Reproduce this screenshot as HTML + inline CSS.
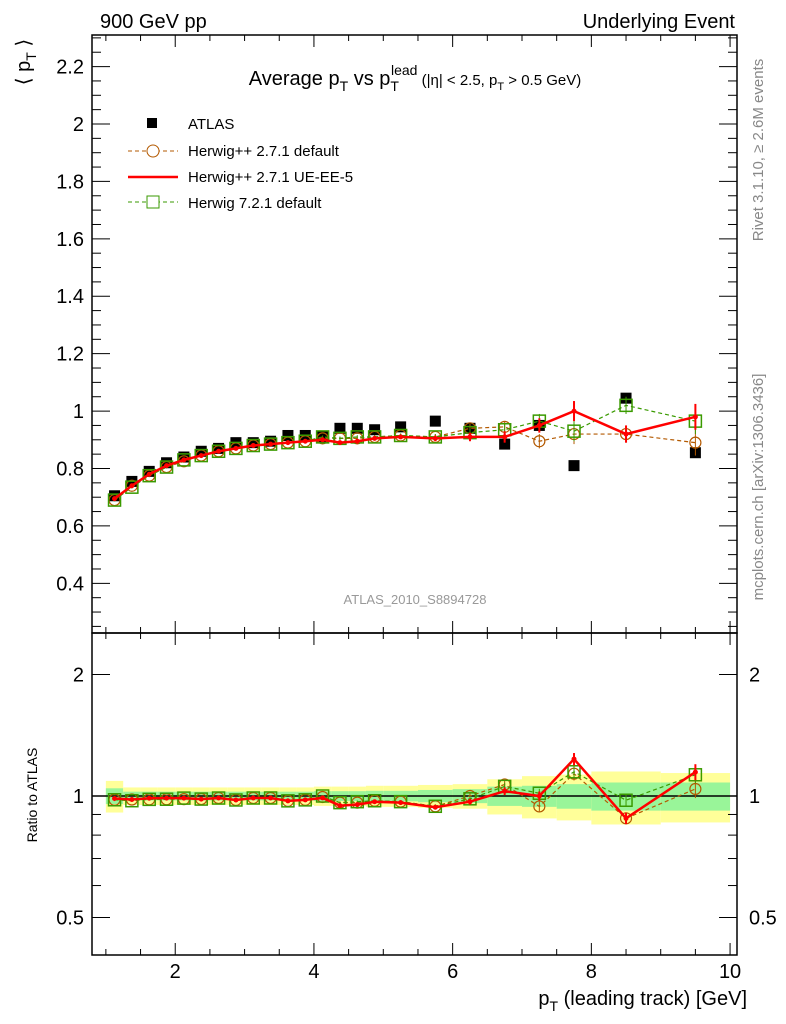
<!DOCTYPE html>
<html><head><meta charset="utf-8"><style>
body{margin:0;background:#fff;}
svg{display:block;font-family:"Liberation Sans",sans-serif;}
</style></head><body>
<svg id="c" width="786" height="1024" viewBox="0 0 786 1024">
<text x="100" y="28" font-size="20">900 GeV pp</text>
<text x="735" y="28" font-size="20" text-anchor="end">Underlying Event</text>
<text x="415" y="85" font-size="20" text-anchor="middle">Average p<tspan font-size="14" dy="6">T</tspan><tspan dy="-6"> vs p</tspan><tspan font-size="14" dy="6">T</tspan><tspan font-size="14" dx="-8" dy="-16">lead</tspan><tspan font-size="15" dy="10"> (|η| &lt; 2.5, p</tspan><tspan font-size="11" dy="5">T</tspan><tspan font-size="15" dy="-5"> &gt; 0.5 GeV)</tspan></text>
<text transform="translate(30,62) rotate(-90)" font-size="20" text-anchor="middle">⟨ p<tspan font-size="14" dy="6">T</tspan><tspan dy="-6"> ⟩</tspan></text>
<text transform="translate(37,795) rotate(-90)" font-size="14" text-anchor="middle">Ratio to ATLAS</text>
<text transform="translate(763,150) rotate(-90)" font-size="15" fill="#888" text-anchor="middle">Rivet 3.1.10, ≥ 2.6M events</text>
<text transform="translate(763,487) rotate(-90)" font-size="15" fill="#888" text-anchor="middle">mcplots.cern.ch [arXiv:1306.3436]</text>
<text x="415" y="604" font-size="13" fill="#999" text-anchor="middle">ATLAS_2010_S8894728</text>
<text x="747" y="1005" font-size="20" text-anchor="end">p<tspan font-size="14" dy="6">T</tspan><tspan dy="-6"> (leading track) [GeV]</tspan></text>
<g id="legend">
<rect x="147" y="118" width="10" height="10" fill="#000"/>
<text x="188" y="129" font-size="15">ATLAS</text>
<line x1="128" y1="151" x2="178" y2="151" stroke="#b35900" stroke-dasharray="4,3"/>
<circle cx="153" cy="151" r="6" fill="#fff" stroke="#b35900"/>
<text x="188" y="156" font-size="15">Herwig++ 2.7.1 default</text>
<line x1="128" y1="177" x2="178" y2="177" stroke="#f00" stroke-width="2.5"/>
<text x="188" y="182" font-size="15">Herwig++ 2.7.1 UE-EE-5</text>
<line x1="128" y1="202" x2="178" y2="202" stroke="#3a9a00" stroke-dasharray="4,3"/>
<rect x="147" y="196" width="12" height="12" fill="#fff" stroke="#3a9a00"/>
<text x="188" y="208" font-size="15">Herwig 7.2.1 default</text>
</g>
</svg>
<script>
const xCenters=[1.125,1.375,1.625,1.875,2.125,2.375,2.625,2.875,3.125,3.375,3.625,3.875,4.125,4.375,4.625,4.875,5.25,5.75,6.25,6.75,7.25,7.75,8.5,9.5];
const xEdges=[1,1.25,1.5,1.75,2,2.25,2.5,2.75,3,3.25,3.5,3.75,4,4.25,4.5,4.75,5,5.5,6,6.5,7,7.5,8,9,10];
const atlas=[0.705,0.755,0.79,0.82,0.84,0.86,0.87,0.89,0.89,0.895,0.915,0.915,0.91,0.94,0.94,0.935,0.945,0.965,0.94,0.885,0.95,0.81,1.045,0.855];
const hppDefault=[0.69,0.74,0.775,0.805,0.825,0.845,0.86,0.87,0.88,0.885,0.89,0.895,0.905,0.905,0.905,0.91,0.915,0.91,0.94,0.945,0.895,0.92,0.92,0.89];
const hppUEEE5=[0.695,0.74,0.78,0.81,0.83,0.845,0.86,0.87,0.88,0.885,0.89,0.895,0.9,0.89,0.895,0.905,0.91,0.905,0.91,0.91,0.95,1.0,0.92,0.98];
const h7Default=[0.69,0.735,0.775,0.805,0.83,0.845,0.86,0.87,0.88,0.885,0.89,0.895,0.91,0.905,0.91,0.91,0.915,0.91,0.925,0.935,0.965,0.93,1.02,0.965];
const mcErr=[0.005,0.005,0.005,0.005,0.005,0.005,0.005,0.005,0.005,0.005,0.005,0.005,0.005,0.006,0.006,0.006,0.007,0.01,0.015,0.02,0.025,0.035,0.03,0.045];
const totRel=[0.09,0.05,0.05,0.05,0.05,0.05,0.05,0.05,0.05,0.05,0.05,0.05,0.055,0.055,0.055,0.06,0.06,0.065,0.07,0.1,0.12,0.13,0.15,0.14];
const statRel=[0.045,0.025,0.025,0.025,0.025,0.025,0.025,0.025,0.025,0.025,0.025,0.025,0.028,0.028,0.028,0.03,0.03,0.035,0.04,0.055,0.06,0.07,0.08,0.08];
const yTicks=[0.4,0.6,0.8,1,1.2,1.4,1.6,1.8,2,2.2];
const xTicks=[2,4,6,8,10];
const rTicks=[0.5,1,2];

const svg=document.getElementById('c');
const NS='http://www.w3.org/2000/svg';
const L=92,R=737,T=35,MB=633,RB=955;
const xmin=0.8,xmax=10.1,ymin=0.227,ymax=2.31;
const X=v=>L+(v-xmin)/(xmax-xmin)*(R-L);
const Y=v=>MB-(v-ymin)/(ymax-ymin)*(MB-T);
const RY=v=>796-Math.log2(v)*121.5;
function mk(t,a,p){const e=document.createElementNS(NS,t);for(const k in a)e.setAttribute(k,a[k]);(p||svg).appendChild(e);return e;}

// bands
const bands=mk('g',{});


xCenters.forEach((c,i)=>{
 const x0=X(xEdges[i]),x1=X(xEdges[i+1]);
 const y=mk('rect',{x:x0,y:RY(1+totRel[i]),width:x1-x0,height:RY(1-totRel[i])-RY(1+totRel[i]),fill:'#ffff99'},bands);
 
 
 const g=mk('rect',{x:x0,y:RY(1+statRel[i]),width:x1-x0,height:RY(1-statRel[i])-RY(1+statRel[i]),fill:'#99f599'},bands);
 
 
});
const one=mk('line',{x1:L,x2:R,y1:RY(1),y2:RY(1),stroke:'#000','stroke-width':1.5});



// frames
const f1=mk('rect',{x:L,y:T,width:R-L,height:MB-T,fill:'none',stroke:'#000','stroke-width':1.5});


const f2=mk('rect',{x:L,y:MB,width:R-L,height:RB-MB,fill:'none',stroke:'#000','stroke-width':1.5});



// ticks
const ax=mk('g',{stroke:'#000','stroke-width':1});


for(let v=1;v<=10.001;v+=0.5){const maj=Math.abs(v-Math.round(v))<0.01&&Math.round(v)%2===0;const len=maj?12:6;
 [[MB,-1],[T,1],[RB,-1],[MB,1]].forEach(([y,d])=>mk('line',{x1:X(v),x2:X(v),y1:y,y2:y+d*len},ax));}
for(let v=0.25;v<=2.3;v+=0.05){const maj=Math.abs(v*5-Math.round(v*5))<0.01;const len=maj?18:9;
 mk('line',{x1:L,x2:L+len,y1:Y(v),y2:Y(v)},ax);mk('line',{x1:R,x2:R-len,y1:Y(v),y2:Y(v)},ax);}
[0.5,0.6,0.7,0.8,0.9,1,2].forEach(v=>{const maj=rTicks.includes(v);const len=maj?18:9;
 mk('line',{x1:L,x2:L+len,y1:RY(v),y2:RY(v)},ax);mk('line',{x1:R,x2:R-len,y1:RY(v),y2:RY(v)},ax);});
yTicks.forEach(v=>{const t=mk('text',{x:L-8,y:Y(v)+7,'font-size':20,'text-anchor':'end'});t.textContent=String(v);
 
 });
xTicks.forEach(v=>{const t=mk('text',{x:X(v),y:978,'font-size':20,'text-anchor':'middle'});t.textContent=String(v);
 
 });
rTicks.forEach(v=>{[[L-8,'end'],[R+12,'start']].forEach(([x,a])=>{const t=mk('text',{x:x,y:RY(v)+7,'font-size':20,'text-anchor':a});t.textContent=String(v);
 
 });});

// series
function series(vals,color,dash,marker,name,yf,ratio){
 const g=mk('g',{});
 
 
 const v=ratio?vals.map((d,i)=>d/atlas[i]):vals;
 const pts=xCenters.map((c,i)=>X(c)+','+yf(v[i])).join(' ');
 mk('polyline',{points:pts,fill:'none',stroke:color,'stroke-width':marker?1.2:2.5,'stroke-dasharray':dash||'none'},g);
 xCenters.forEach((c,i)=>{
  const e=ratio?mcErr[i]/atlas[i]:mcErr[i];
  mk('line',{x1:X(c),x2:X(c),y1:yf(v[i]+e),y2:yf(v[i]-e),stroke:color,'stroke-width':marker?1:2},g);
  let m;
  if(marker==='circle')m=mk('circle',{cx:X(c),cy:yf(v[i]),r:5.5,fill:'none',stroke:color,'stroke-width':1.2},g);
  else if(marker==='square')m=mk('rect',{x:X(c)-6,y:yf(v[i])-6,width:12,height:12,fill:'none',stroke:color,'stroke-width':1.5},g);
  else m=mk('circle',{cx:X(c),cy:yf(v[i]),r:2.5,fill:color},g);
  
  
 });
}
// ATLAS main
const ag=mk('g',{});


xCenters.forEach((c,i)=>{const r=mk('rect',{x:X(c)-5.5,y:Y(atlas[i])-5.5,width:11,height:11,fill:'#000'},ag);
 
 });
series(hppDefault,'#b35900','4,3','circle','herwigpp-default-series',Y,false);
series(h7Default,'#3a9a00','4,3','square','herwig7-default-series',Y,false);
series(hppUEEE5,'#ff0000',null,null,'herwigpp-ueee5-series',Y,false);
series(hppDefault,'#b35900','4,3','circle','herwigpp-default-ratio',RY,true);
series(h7Default,'#3a9a00','4,3','square','herwig7-default-ratio',RY,true);
series(hppUEEE5,'#ff0000',null,null,'herwigpp-ueee5-ratio',RY,true);
svg.appendChild(document.getElementById('legend'));
</script>
</body></html>
